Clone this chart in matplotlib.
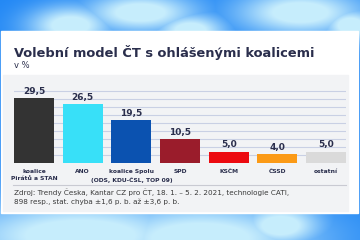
import numpy as np
import matplotlib
matplotlib.use("Agg")
from matplotlib import pyplot as plt
from matplotlib.patches import Rectangle

# Data
parties = ["koalice\nPirátů a STAN", "ANO", "koalice Spolu\n(ODS, KDU-ČSL, TOP 09)",
           "SPD", "KSČM", "ČSSD", "ostatní"]
values = [29.5, 26.5, 19.5, 10.5, 5.0, 4.0, 5.0]
value_labels = ["29,5", "26,5", "19,5", "10,5", "5,0", "4,0", "5,0"]
colors = ["#333333", "#38e0f8", "#0b52b0", "#9a1c2b", "#ec0a10", "#fb9a16", "#dadada"]

title = "Volební model ČT s ohlášenými koalicemi"
subtitle = "v %"
source = ("Zdroj: Trendy Česka, Kantar CZ pro ČT, 18. 1. – 5. 2. 2021, technologie CATI,\n"
          "898 resp., stat. chyba ±1,6 p. b. až ±3,6 p. b.")

W, H = 360, 240
NAVY = "#2a2e4c"


def fx(x):
   return x / W


def fy(y):
   return 1 - y / H


fig = plt.figure(figsize=(W / 100, H / 100), dpi=100)

# Background: blue map-like backdrop with light cloud patches (x, y, rx, ry)
bg = fig.add_axes([0, 0, 1, 1])
yy, xx = np.mgrid[0:H, 0:W]
light = np.zeros((H, W))
for cx, cy, rx, ry in [(70, 25, 30, 14), (140, 12, 40, 14), (190, 30, 25, 12),
                       (300, 12, 45, 16), (350, 25, 20, 12),
                       (80, 235, 90, 25), (200, 238, 80, 25), (280, 225, 30, 15)]:
   light = np.maximum(light, np.exp(-((xx - cx) ** 2 / (2 * rx * rx) + (yy - cy) ** 2 / (2 * ry * ry))))
deep = np.array([0.13, 0.53, 0.96])
pale = np.array([0.78, 0.93, 0.99])
img = deep + (pale - deep) * np.clip(light * 1.2, 0, 1)[..., None]
bg.imshow(img, extent=[0, 1, 0, 1], aspect="auto")
bg.set_xlim(0, 1)
bg.set_ylim(0, 1)
bg.axis("off")

# White card and grey panel
bg.add_patch(Rectangle((fx(1), fy(213)), fx(357), 182 / H, color="white", zorder=2))
bg.add_patch(Rectangle((fx(3), fy(211)), fx(345), 136 / H, color="#f2f3f5", zorder=3))
bg.plot([fx(13), fx(346)], [fy(185), fy(185)], color="#c9cad2", lw=0.8, zorder=4)

fig.text(fx(14), fy(52.5), title, fontsize=9.4, fontweight="bold", color=NAVY, va="center")
fig.text(fx(14), fy(66), subtitle, fontsize=6, color=NAVY, va="center")
fig.text(fx(14), fy(197), source, fontsize=5.2, color="#3a3a3a", va="center", linespacing=1.45)

# Chart
ymax = 33
ax = fig.add_axes([fx(14), fy(162.5), (346 - 14) / W, ymax * 2.2 / H])
x = np.arange(len(values))
ax.bar(x, values, width=0.822, color=colors, zorder=3)
ax.set_xlim(-0.411, len(values) - 1 + 0.411)
ax.set_ylim(0, ymax)
ax.set_yticks(np.linspace(0, 32.5, 10)[1:])
ax.grid(axis="y", color="#c9d0e4", lw=0.8, zorder=0)
ax.set_facecolor("none")
for s in ax.spines.values():
   s.set_visible(False)
ax.tick_params(left=False, bottom=False, labelleft=False, labelbottom=False)

for xi, v, lab in zip(x, values, value_labels):
   ax.annotate(lab, (xi, v), xytext=(0, 1.5), textcoords="offset points",
               ha="center", va="bottom", fontsize=6.5, fontweight="bold", color=NAVY)
for xi, name in zip(x, parties):
   ax.annotate(name, (xi, 0), xytext=(0, -4.5), textcoords="offset points",
               ha="center", va="top", fontsize=4.3, fontweight="bold", color=NAVY,
               linespacing=1.6)

fig.savefig("out.png", dpi=100)
